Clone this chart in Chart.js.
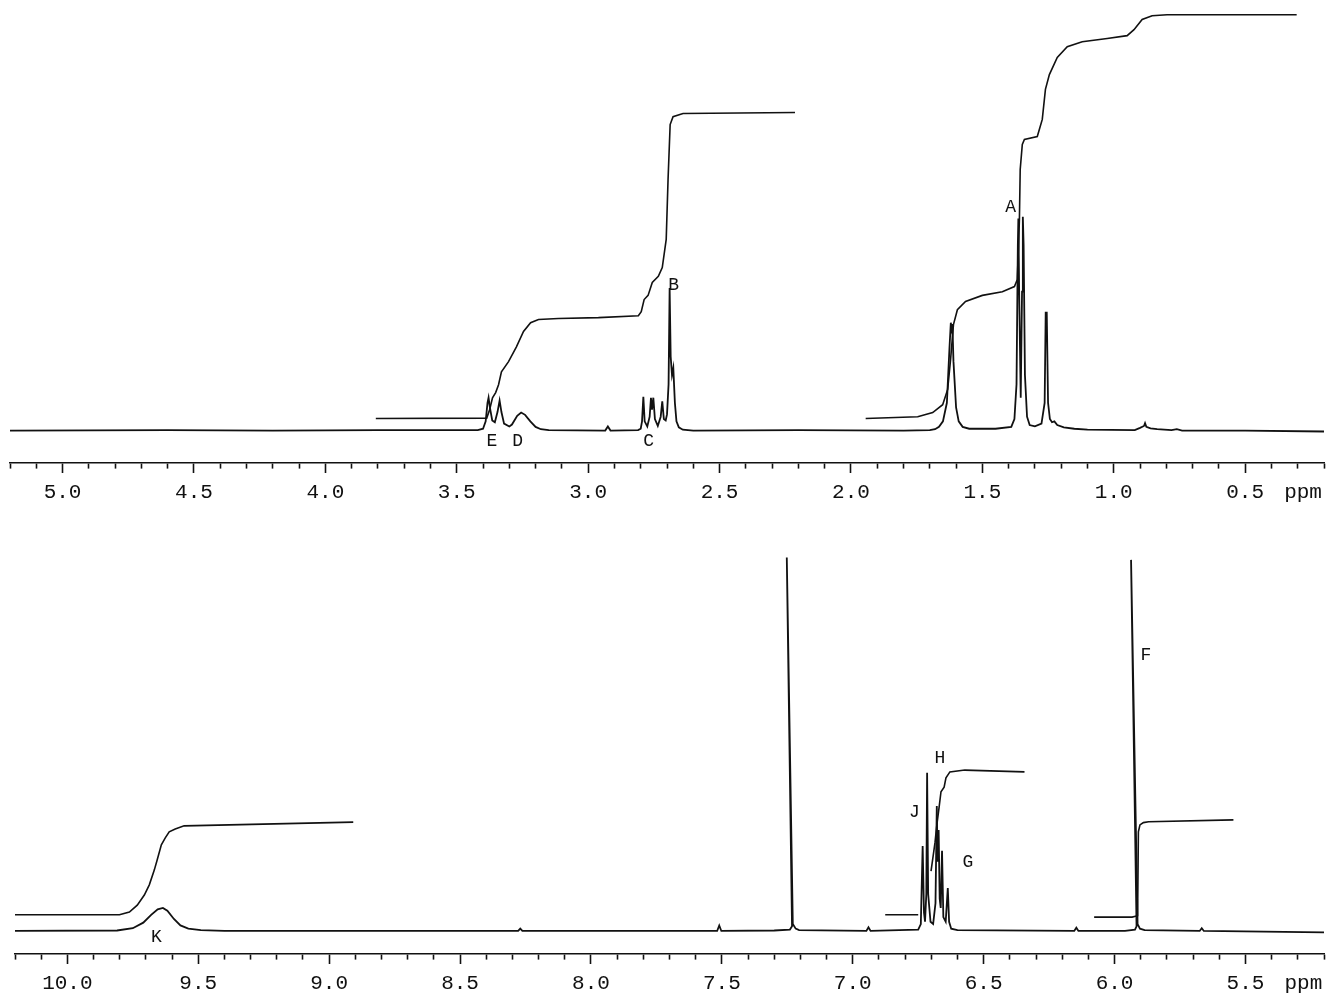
<!DOCTYPE html>
<html>
<head>
<meta charset="utf-8">
<script src="https://cdn.jsdelivr.net/npm/chart.js@4.4.0/dist/chart.umd.min.js"></script>
<style>
  html, body { margin: 0; padding: 0; background: #fff; }
  #wrap { position: relative; width: 1331px; height: 994px; overflow: hidden; background: #fff; }
  #upper { position: absolute; left: 0; top: 0; }
  #lower { position: absolute; left: 0; top: 470px; }
</style>
</head>
<body>
<div id="wrap">
  <canvas id="upper" width="1331" height="510"></canvas>
  <canvas id="lower" width="1331" height="524"></canvas>
</div>
<script>
// ---- panel superior: 0.2 - 5.2 ppm ----
const upperTicks = ['5.0', '4.5', '4.0', '3.5', '3.0', '2.5', '2.0', '1.5', '1.0', '0.5'];

const upperShift = [5.20, 4.60, 4.20, 3.80, 3.42, 3.400, 3.390, 3.383, 3.379, 3.374, 3.365, 3.355, 3.345, 3.337, 3.330, 3.320,
  3.300, 3.290, 3.270, 3.255, 3.240, 3.220, 3.200, 3.180, 3.150, 2.935, 2.925, 2.915, 2.810, 2.800, 2.795, 2.790,
  2.785, 2.775, 2.766, 2.761, 2.757, 2.752, 2.746, 2.735, 2.724, 2.718, 2.712, 2.705, 2.700, 2.694, 2.690, 2.686,
  2.681, 2.676, 2.670, 2.664, 2.655, 2.640, 2.600, 2.200, 1.800, 1.700, 1.680, 1.665, 1.650, 1.635, 1.625, 1.620,
  1.617, 1.614, 1.610, 1.600, 1.590, 1.575, 1.550, 1.450, 1.390, 1.378, 1.370, 1.365, 1.363, 1.360, 1.354, 1.349,
  1.346, 1.343, 1.338, 1.330, 1.320, 1.300, 1.275, 1.263, 1.259, 1.255, 1.250, 1.243, 1.235, 1.226, 1.215, 1.190,
  1.150, 1.100, 0.920, 0.900, 0.885, 0.881, 0.876, 0.860, 0.835, 0.780, 0.760, 0.740, 0.500, 0.200];
const upperSignal = [0, 0.1, 0, 0.1, 0.1, 0.4, 2, 6, 7.1, 5, 2.2, 1.8, 4, 6.5, 4, 1.5,
  0.9, 1.3, 3.2, 3.9, 3.4, 2.0, 0.8, 0.3, 0.1, 0, 0.9, 0, 0.1, 0.4, 2, 7.3,
  2, 0.9, 3, 7.1, 4.5, 7.1, 2.5, 1.0, 3, 6.3, 2.5, 2.2, 3.5, 10, 30.8, 16,
  12, 13.5, 6, 2, 0.7, 0.2, 0, 0.1, 0, 0.1, 0.3, 0.8, 2, 6, 18, 23.3,
  22, 23, 15, 5, 2, 0.8, 0.4, 0.4, 0.8, 2.5, 10, 40, 45.8, 30, 7.1, 30,
  46.2, 40, 12, 3, 1.2, 0.9, 1.5, 6, 25.5, 25.5, 6, 2.5, 1.8, 2.0, 1.2, 0.7,
  0.4, 0.2, 0.1, 0.6, 1.0, 1.6, 0.8, 0.5, 0.3, 0.1, 0.3, 0, 0, -0.2];

// integrales superiores
const upperStepAShift = [3.808, 3.386, 3.375, 3.364, 3.352, 3.341, 3.330, 3.303, 3.273, 3.246, 3.219, 3.189, 3.113, 2.961,
  2.809, 2.798, 2.787, 2.772, 2.756, 2.733, 2.718, 2.703, 2.696, 2.688, 2.677, 2.639, 2.213];
const upperStepAValue = [2.6, 2.7, 4.5, 7.1, 8.2, 9.9, 12.7, 14.9, 18.1, 21.4, 23.3, 24.0, 24.2, 24.4,
  24.8, 25.7, 28.3, 29.2, 32.0, 33.3, 35.2, 41.3, 54.2, 66.1, 67.8, 68.5, 68.7];
const upperStepBShift = [1.944, 1.746, 1.689, 1.651, 1.632, 1.621, 1.610, 1.595, 1.564, 1.500, 1.424, 1.378, 1.367, 1.359,
  1.356, 1.348, 1.340, 1.291, 1.272, 1.260, 1.245, 1.215, 1.177, 1.120, 1.025, 0.949, 0.923, 0.892, 0.854, 0.797, 0.304];
const upperStepBValue = [2.6, 3.0, 3.9, 5.6, 8.9, 15.3, 22.9, 26.1, 27.9, 29.2, 30.0, 31.1, 32.6, 45.6,
  56.4, 61.8, 62.9, 63.5, 67.2, 73.7, 76.9, 80.6, 82.9, 84.0, 84.7, 85.3, 86.6, 88.8, 89.6, 89.8, 89.8];

const upperLabels = ['E', 'D', 'C', 'B', 'A'];
const upperLabelShift = [3.366, 3.268, 2.770, 2.675, 1.392];
const upperLabelLevel = [-2.3, -2.3, -2.3, 31.4, 48.3];

// ---- panel inferior: 5.2 - 10.2 ppm ----
const lowerTicks = ['10.0', '9.5', '9.0', '8.5', '8.0', '7.5', '7.0', '6.5', '6.0', '5.5'];

const lowerShift = [10.20, 9.81, 9.75, 9.71, 9.68, 9.655, 9.635, 9.618, 9.593, 9.568, 9.538, 9.49, 9.40, 8.278, 8.270, 8.262,
  7.518, 7.510, 7.502, 7.300, 7.240, 7.232, 7.252, 7.229, 7.218, 7.205, 6.948, 6.940, 6.932,
  6.750, 6.740, 6.733, 6.728, 6.724, 6.719, 6.716, 6.712, 6.703, 6.693, 6.684, 6.679, 6.676, 6.672, 6.668, 6.664,
  6.659, 6.654, 6.645, 6.637, 6.632, 6.624, 6.600, 6.154, 6.146, 6.138, 5.960, 5.922, 5.916, 5.937, 5.912, 5.903,
  5.885, 5.675, 5.667, 5.659, 5.200];
const lowerSignal = [0, 0.1, 0.6, 1.8, 3.5, 4.7, 5.0, 4.4, 2.6, 1.2, 0.5, 0.2, 0, 0, 0.5, 0,
  0, 1.2, 0, 0.1, 0.3, 1.0, 81, 1.5, 0.5, 0.2, 0, 0.8, 0,
  0.3, 1.5, 18.4, 4, 2, 8, 34.3, 8, 2, 1.5, 6, 27.1, 15, 21.9, 7, 5,
  17.4, 3, 2, 9.3, 2, 0.5, 0.2, 0, 0.7, 0, 0, 0.3, 1.0, 80.5, 1.5, 0.5,
  0.2, 0, 0.6, 0, -0.3];

// integrales inferiores (null = hueco en el trazo)
const lowerStepKShift = [10.2, 9.801, 9.763, 9.733, 9.706, 9.687, 9.668, 9.657, 9.641, 9.626, 9.611, 9.588, 9.554, 8.908];
const lowerStepKValue = [3.5, 3.5, 4.1, 5.6, 7.8, 10.0, 13.2, 15.4, 18.7, 20.2, 21.5, 22.1, 22.8, 23.6];
const lowerStepGShift = [6.876, 6.750, 6.725, 6.701, 6.686, 6.678, 6.670, 6.663, 6.651, 6.644, 6.629, 6.572, 6.344];
const lowerStepGValue = [3.5, 3.5, null, 13.0, 19.1, 23.4, 26.9, 30.2, 31.2, 33.2, 34.5, 34.9, 34.5];
const lowerStepFShift = [6.078, 5.933, 5.912, 5.909, 5.903, 5.890, 5.870, 5.546];
const lowerStepFValue = [3.0, 3.0, 3.3, 21.5, 23.0, 23.5, 23.7, 24.1];

const lowerLabels = ['K', 'J', 'H', 'G', 'F'];
const lowerLabelShift = [9.660, 6.765, 6.667, 6.560, 5.880];
const lowerLabelLevel = [-1.3, 25.8, 37.5, 15.0, 59.9];

const pen = '#111';
const mono = '"Liberation Mono", "DejaVu Sans Mono", monospace';

function zip(xs, ys) {
  return xs.map((x, i) => ({ x: x, y: ys[i] }));
}

const isMajor = v => Math.abs(v * 2 - Math.round(v * 2)) < 1e-6;

// letras de los picos + unidad "ppm"
const peakLetters = {
  id: 'peakLetters',
  afterDatasetsDraw(chart, args, opts) {
    const { ctx } = chart;
    const x = chart.scales.x, y = chart.scales.y;
    ctx.save();
    ctx.fillStyle = pen;
    ctx.font = '18px ' + mono;
    ctx.textAlign = 'center';
    ctx.textBaseline = 'middle';
    opts.text.forEach((t, i) => {
      ctx.fillText(t, x.getPixelForValue(opts.shift[i]), y.getPixelForValue(opts.level[i]));
    });
    ctx.font = '21px ' + mono;
    ctx.textAlign = 'left';
    ctx.fillText('ppm', x.getPixelForValue(opts.unitAt) + 39, x.top + 29);
    ctx.restore();
  }
};

function trace(points, i) {
  return {
    data: points,
    borderColor: pen,
    borderWidth: i === 0 ? 1.8 : 1.6,
    pointRadius: 0,
    tension: 0,
    spanGaps: false
  };
}

function buildChart(id, cfg) {
  return new Chart(document.getElementById(id), {
    type: 'line',
    data: { datasets: cfg.datasets.map(trace) },
    options: {
      responsive: false,
      animation: false,
      parsing: false,
      layout: { padding: cfg.padding },
      plugins: {
        legend: { display: false },
        tooltip: { enabled: false },
        peakLetters: cfg.letters
      },
      scales: {
        x: {
          type: 'linear',
          reverse: true,
          min: cfg.min,
          max: cfg.max,
          afterFit: s => { s.height = cfg.axisSpace; },
          border: { display: true, color: pen, width: 1.6 },
          grid: {
            drawOnChartArea: false,
            drawTicks: true,
            tickLength: 10,
            tickColor: pen,
            tickWidth: 1.6,
            // marcas menores más cortas
            tickBorderDash: c => (c.tick && isMajor(c.tick.value)) ? [] : [5, 40]
          },
          ticks: {
            stepSize: 0.1,
            maxTicksLimit: 200,
            autoSkip: false,
            maxRotation: 0,
            padding: 7,
            color: pen,
            font: { family: mono, size: 21 },
            callback: v => {
              const s = Number(v).toFixed(1);
              return isMajor(v) && cfg.tickLabels.includes(s) ? s : '';
            }
          }
        },
        y: { type: 'linear', display: false, min: cfg.yMin, max: cfg.yMax }
      }
    },
    plugins: [peakLetters]
  });
}

buildChart('upper', {
  min: 0.2, max: 5.2, yMin: -7, yMax: 93,
  axisSpace: 47,
  padding: { left: 10, right: 4, top: 0, bottom: 0 },
  tickLabels: upperTicks,
  datasets: [
    zip(upperShift, upperSignal),
    zip(upperStepAShift, upperStepAValue),
    zip(upperStepBShift, upperStepBValue)
  ],
  letters: { text: upperLabels, shift: upperLabelShift, level: upperLabelLevel, unitAt: 0.5 }
});

buildChart('lower', {
  min: 5.2, max: 10.2, yMin: -5, yMax: 100,
  axisSpace: 40,
  padding: { left: 15, right: 0, top: 0, bottom: 0 },
  tickLabels: lowerTicks,
  datasets: [
    zip(lowerShift, lowerSignal),
    zip(lowerStepKShift, lowerStepKValue),
    zip(lowerStepGShift, lowerStepGValue),
    zip(lowerStepFShift, lowerStepFValue)
  ],
  letters: { text: lowerLabels, shift: lowerLabelShift, level: lowerLabelLevel, unitAt: 5.5 }
});
</script>
</body>
</html>
